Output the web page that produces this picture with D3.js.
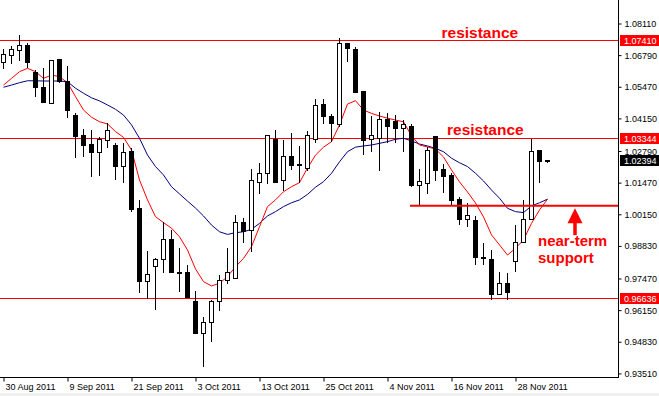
<!DOCTYPE html>
<html>
<head>
<meta charset="utf-8">
<script src="https://cdnjs.cloudflare.com/ajax/libs/d3/7.8.5/d3.min.js"></script>
<style>
  body { margin: 0; background: #fff; }
  svg { display: block; }
  .axis text { font-family: "Liberation Sans", Arial, sans-serif; font-size: 9px; fill: #000; }
</style>
</head>
<body>
<div id="chart"></div>
<script>
const width = 659;
const height = 396;
const plotRight = 618;
const plotBottom = 377;

const dates = [
  '30 Aug 2011', '31 Aug 2011', '1 Sep 2011', '2 Sep 2011', '5 Sep 2011', '6 Sep 2011', '7 Sep 2011', '8 Sep 2011',
  '9 Sep 2011', '12 Sep 2011', '13 Sep 2011', '14 Sep 2011', '15 Sep 2011', '16 Sep 2011', '19 Sep 2011', '20 Sep 2011',
  '21 Sep 2011', '22 Sep 2011', '23 Sep 2011', '26 Sep 2011', '27 Sep 2011', '28 Sep 2011', '29 Sep 2011', '30 Sep 2011',
  '3 Oct 2011', '4 Oct 2011', '5 Oct 2011', '6 Oct 2011', '7 Oct 2011', '10 Oct 2011', '11 Oct 2011', '12 Oct 2011',
  '13 Oct 2011', '14 Oct 2011', '17 Oct 2011', '18 Oct 2011', '19 Oct 2011', '20 Oct 2011', '21 Oct 2011', '24 Oct 2011',
  '25 Oct 2011', '26 Oct 2011', '27 Oct 2011', '28 Oct 2011', '31 Oct 2011', '1 Nov 2011', '2 Nov 2011', '3 Nov 2011',
  '4 Nov 2011', '7 Nov 2011', '8 Nov 2011', '9 Nov 2011', '10 Nov 2011', '11 Nov 2011', '14 Nov 2011', '15 Nov 2011',
  '16 Nov 2011', '17 Nov 2011', '18 Nov 2011', '21 Nov 2011', '22 Nov 2011', '23 Nov 2011', '24 Nov 2011', '25 Nov 2011',
  '28 Nov 2011', '29 Nov 2011', '30 Nov 2011', '1 Dec 2011', '2 Dec 2011'
];

const opens = [
  1.0649, 1.0678, 1.0699, 1.0721, 1.0606, 1.0545, 1.0478, 1.0659, 1.0571, 1.0429,
  1.0342, 1.0308, 1.0272, 1.0322, 1.0300, 1.0214, 1.0276, 1.0037, 0.9734, 0.9796,
  0.9827, 0.9908, 0.9771, 0.9773, 0.9653, 0.9518, 0.9564, 0.9653, 0.9738, 0.9748,
  0.9982, 0.9949, 1.0148, 1.0186, 1.0325, 1.0154, 1.0258, 1.0221, 1.0207, 1.0328,
  1.0475, 1.0425, 1.0390, 1.0728, 1.0701, 1.0529, 1.0328, 1.0332, 1.0411, 1.0404,
  1.0372, 1.0383, 1.0134, 1.0144, 1.0339, 1.0200, 1.0175, 1.0075, 0.9994, 0.9991,
  0.9833, 0.9827, 0.9682, 0.9727, 0.9817, 0.9898, 0.9995, 1.0279, 1.0237
];
const highs = [
  1.0703, 1.0717, 1.0763, 1.0728, 1.0617, 1.0624, 1.0658, 1.0660, 1.0634, 1.0439,
  1.0371, 1.0367, 1.0339, 1.0397, 1.0314, 1.0311, 1.0290, 1.0075, 0.9863, 0.9831,
  0.9984, 0.9949, 0.9873, 0.9803, 0.9695, 0.9588, 0.9657, 0.9762, 0.9873, 1.0012,
  1.0001, 1.0204, 1.0228, 1.0344, 1.0367, 1.0325, 1.0353, 1.0300, 1.0363, 1.0495,
  1.0495, 1.0432, 1.0752, 1.0731, 1.0712, 1.0530, 1.0425, 1.0441, 1.0436, 1.0429,
  1.0408, 1.0392, 1.0203, 1.0297, 1.0342, 1.0225, 1.0186, 1.0086, 1.0063, 1.0008,
  0.9894, 0.9866, 0.9775, 0.9771, 0.9970, 1.0075, 1.0328, 1.0283, 1.0242
];
const lows = [
  1.0620, 1.0642, 1.0656, 1.0624, 1.0506, 1.0478, 1.0476, 1.0562, 1.0416, 1.0251,
  1.0255, 1.0172, 1.0176, 1.0290, 1.0158, 1.0144, 1.0026, 0.9685, 0.9660, 0.9616,
  0.9769, 0.9769, 0.9692, 0.9664, 0.9516, 0.9379, 0.9481, 0.9613, 0.9724, 0.9745,
  0.9896, 0.9859, 1.0098, 1.0140, 1.0144, 1.0112, 1.0200, 1.0144, 1.0196, 1.0311,
  1.0390, 1.0318, 1.0378, 1.0652, 1.0520, 1.0262, 1.0276, 1.0197, 1.0311, 1.0311,
  1.0276, 1.0130, 1.0054, 1.0098, 1.0155, 1.0105, 1.0054, 0.9970, 0.9961, 0.9802,
  0.9803, 0.9657, 0.9678, 0.9657, 0.9775, 0.9894, 0.9991, 1.0144, 1.0230
];
const closes = [
  1.0680, 1.0703, 1.0721, 1.0649, 1.0545, 1.0481, 1.0656, 1.0568, 1.0447, 1.0339,
  1.0304, 1.0272, 1.0325, 1.0363, 1.0214, 1.0274, 1.0033, 0.9734, 0.9762, 0.9828,
  0.9908, 0.9771, 0.9770, 0.9667, 0.9518, 0.9564, 0.9653, 0.9738, 0.9773, 0.9982,
  0.9942, 1.0154, 1.0186, 1.0342, 1.0148, 1.0258, 1.0218, 1.0220, 1.0345, 1.0470,
  1.0422, 1.0392, 1.0728, 1.0708, 1.0522, 1.0322, 1.0345, 1.0411, 1.0380, 1.0372,
  1.0390, 1.0133, 1.0151, 1.0280, 1.0197, 1.0172, 1.0072, 0.9994, 1.0008, 0.9835,
  0.9832, 0.9682, 0.9727, 0.9689, 0.9896, 0.9995, 1.0276, 1.0234, 1.02394
];

// fast (red) and slow (navy) moving averages as drawn
const maFast = [
  1.0554, 1.0582, 1.0610, 1.0624, 1.0610, 1.0582, 1.0596, 1.0589, 1.0564, 1.0506,
  1.0450, 1.0420, 1.0401, 1.0392, 1.0360, 1.0336, 1.0283, 1.0158, 1.0075, 1.0005,
  0.9980, 0.9957, 0.9921, 0.9866, 0.9787, 0.9734, 0.9716, 0.9727, 0.9755, 0.9796,
  0.9831, 0.9880, 0.9963, 1.0047, 1.0075, 1.0109, 1.0130, 1.0147, 1.0208, 1.0262,
  1.0295, 1.0318, 1.0388, 1.0475, 1.0489, 1.0450, 1.0436, 1.0425, 1.0416, 1.0408,
  1.0401, 1.0342, 1.0304, 1.0296, 1.0287, 1.0254, 1.0200, 1.0150, 1.0108, 1.0062,
  1.0004, 0.9929, 0.9887, 0.9845, 0.9873, 0.9908, 0.9977, 1.0033, 1.0078
];
const maSlow = [
  1.0545, 1.0554, 1.0564, 1.0572, 1.0572, 1.0571, 1.0571, 1.0571, 1.0568, 1.0541,
  1.0520, 1.0501, 1.0488, 1.0471, 1.0453, 1.0429, 1.0388, 1.0332, 1.0262, 1.0214,
  1.0179, 1.0130, 1.0100, 1.0070, 1.0041, 1.0008, 0.9970, 0.9942, 0.9931, 0.9938,
  0.9942, 0.9952, 0.9977, 1.0008, 1.0026, 1.0047, 1.0063, 1.0075, 1.0098, 1.0128,
  1.0151, 1.0186, 1.0234, 1.0276, 1.0295, 1.0300, 1.0304, 1.0311, 1.0318, 1.0328,
  1.0332, 1.0321, 1.0308, 1.0300, 1.0290, 1.0276, 1.0249, 1.0230, 1.0214, 1.0186,
  1.0154, 1.0116, 1.0082, 1.0040, 1.0026, 1.0022, 1.0050, 1.0063, 1.0078
];

const yTicks = [1.0811, 1.0679, 1.0547, 1.0415, 1.0279, 1.0147, 1.0015, 0.9883, 0.9747, 0.9615, 0.9483, 0.9351];
const resistanceLevels = [1.07410, 1.03344];
const lowLevel = 0.96636;
const supportLevel = 1.0051;
const supportStart = '9 Nov 2011';
const lastPrice = 1.02394;

const candles = dates.map((d, i) => ({
  date: d, open: opens[i], high: highs[i], low: lows[i], close: closes[i]
}));

const svg = d3.select('#chart')
  .append('svg')
  .attr('width', width)
  .attr('height', height);

svg.append('rect')
  .attr('width', width).attr('height', height).attr('fill', '#fff');
svg.append('rect')
  .attr('y', 393).attr('width', width).attr('height', 3).attr('fill', '#f0f0f0');

const x = d3.scalePoint()
  .domain(dates)
  .range([3.5, 3.5 + 8 * (dates.length - 1)]);

const y = d3.scaleLinear()
  .domain([0.93510, 1.08110])
  .range([373.4, 23.5]);

svg.append('defs').append('clipPath')
  .attr('id', 'plot-clip')
  .append('rect')
  .attr('width', plotRight).attr('height', plotBottom);

const plot = svg.append('g').attr('clip-path', 'url(#plot-clip)');

// horizontal levels
resistanceLevels.concat([lowLevel]).forEach(v => {
  plot.append('line')
    .attr('x1', 0).attr('x2', plotRight)
    .attr('y1', Math.round(y(v)) + 0.5).attr('y2', Math.round(y(v)) + 0.5)
    .attr('stroke', '#ff0000')
    .attr('stroke-width', 1);
});

// moving averages
const maLine = arr => d3.line()
  .x((d, i) => x(dates[i]))
  .y(d => y(d))(arr);

plot.append('path')
  .attr('d', maLine(maSlow))
  .attr('fill', 'none')
  .attr('stroke', '#000080')
  .attr('stroke-width', 1);

plot.append('path')
  .attr('d', maLine(maFast))
  .attr('fill', 'none')
  .attr('stroke', '#ff0000')
  .attr('stroke-width', 1);

// candles
const candle = plot.append('g')
  .attr('shape-rendering', 'crispEdges')
  .selectAll('g')
  .data(candles)
  .enter()
  .append('g');

candle.append('line')
  .attr('x1', d => x(d.date)).attr('x2', d => x(d.date))
  .attr('y1', d => y(d.high)).attr('y2', d => y(d.low))
  .attr('stroke', '#000');

candle.append('rect')
  .attr('x', d => x(d.date) - 2)
  .attr('width', 4)
  .attr('y', d => y(Math.max(d.open, d.close)))
  .attr('height', d => Math.max(0.5, Math.abs(y(d.open) - y(d.close))))
  .attr('fill', d => d.close >= d.open ? '#fff' : '#000')
  .attr('stroke', '#000');

// near-term support line
plot.append('line')
  .attr('x1', x(supportStart) - 1.5).attr('x2', plotRight)
  .attr('y1', y(supportLevel)).attr('y2', y(supportLevel))
  .attr('stroke', '#ff0000')
  .attr('stroke-width', 2);

// arrow
const ax = 575;
const tipY = y(supportLevel) + 2.5;
plot.append('line')
  .attr('x1', ax).attr('x2', ax)
  .attr('y1', tipY + 10).attr('y2', tipY + 27)
  .attr('stroke', '#ff0000')
  .attr('stroke-width', 3.5);
plot.append('path')
  .attr('d', `M${ax},${tipY} L${ax - 7.5},${tipY + 15} L${ax + 7.5},${tipY + 15} Z`)
  .attr('fill', '#ff0000');

// annotations
const note = (tx, ty, txt, size) => svg.append('text')
  .attr('x', tx).attr('y', ty)
  .attr('fill', '#ff0000')
  .style('font-family', '"Liberation Sans", Arial, sans-serif')
  .style('font-size', size + 'px')
  .style('font-weight', 'bold')
  .text(txt);

note(441.5, y(resistanceLevels[0]) - 2, 'resistance', 15.5);
note(447, y(resistanceLevels[1]) - 3, 'resistance', 15.5);
note(538, 245.5, 'near-term', 15);
note(538, 262.5, 'support', 15);

// axes
svg.append('line')
  .attr('x1', plotRight + 0.5).attr('x2', plotRight + 0.5)
  .attr('y1', 0).attr('y2', plotBottom + 1)
  .attr('stroke', '#000');
svg.append('line')
  .attr('x1', 0).attr('x2', plotRight + 1)
  .attr('y1', plotBottom + 0.5).attr('y2', plotBottom + 0.5)
  .attr('stroke', '#000');

const yAxis = svg.append('g')
  .attr('class', 'axis')
  .attr('transform', `translate(${plotRight + 0.5}, 0)`)
  .call(d3.axisRight(y)
    .tickValues(yTicks)
    .tickSize(3)
    .tickPadding(3)
    .tickFormat(d3.format('.5f')));
yAxis.select('.domain').remove();
yAxis.selectAll('text').attr('dy', '0.34em');

const xAxis = svg.append('g')
  .attr('class', 'axis')
  .attr('transform', `translate(0, ${plotBottom + 0.5})`)
  .call(d3.axisBottom(x)
    .tickValues(dates.filter((d, i) => i % 8 === 0))
    .tickSize(4)
    .tickSizeOuter(0));
xAxis.select('.domain').remove();
xAxis.selectAll('text')
  .attr('text-anchor', 'start')
  .attr('x', 1.5)
  .attr('y', 6);

// price boxes on the right axis
const boxes = [
  { v: resistanceLevels[0], fill: '#ff0000' },
  { v: resistanceLevels[1], fill: '#ff0000' },
  { v: lowLevel, fill: '#ff0000' },
  { v: lastPrice, fill: '#000' }
];
boxes.forEach(b => {
  const cy = Math.round(y(b.v));
  svg.append('rect')
    .attr('x', plotRight + 2).attr('y', cy - 5)
    .attr('width', width - plotRight - 2).attr('height', 11)
    .attr('fill', b.fill);
  svg.append('text')
    .attr('x', plotRight + 6).attr('y', cy + 0.5)
    .attr('dy', '0.34em')
    .attr('fill', '#fff')
    .style('font-family', '"Liberation Sans", Arial, sans-serif')
    .style('font-size', '9px')
    .text(d3.format('.5f')(b.v));
});
</script>
</body>
</html>
